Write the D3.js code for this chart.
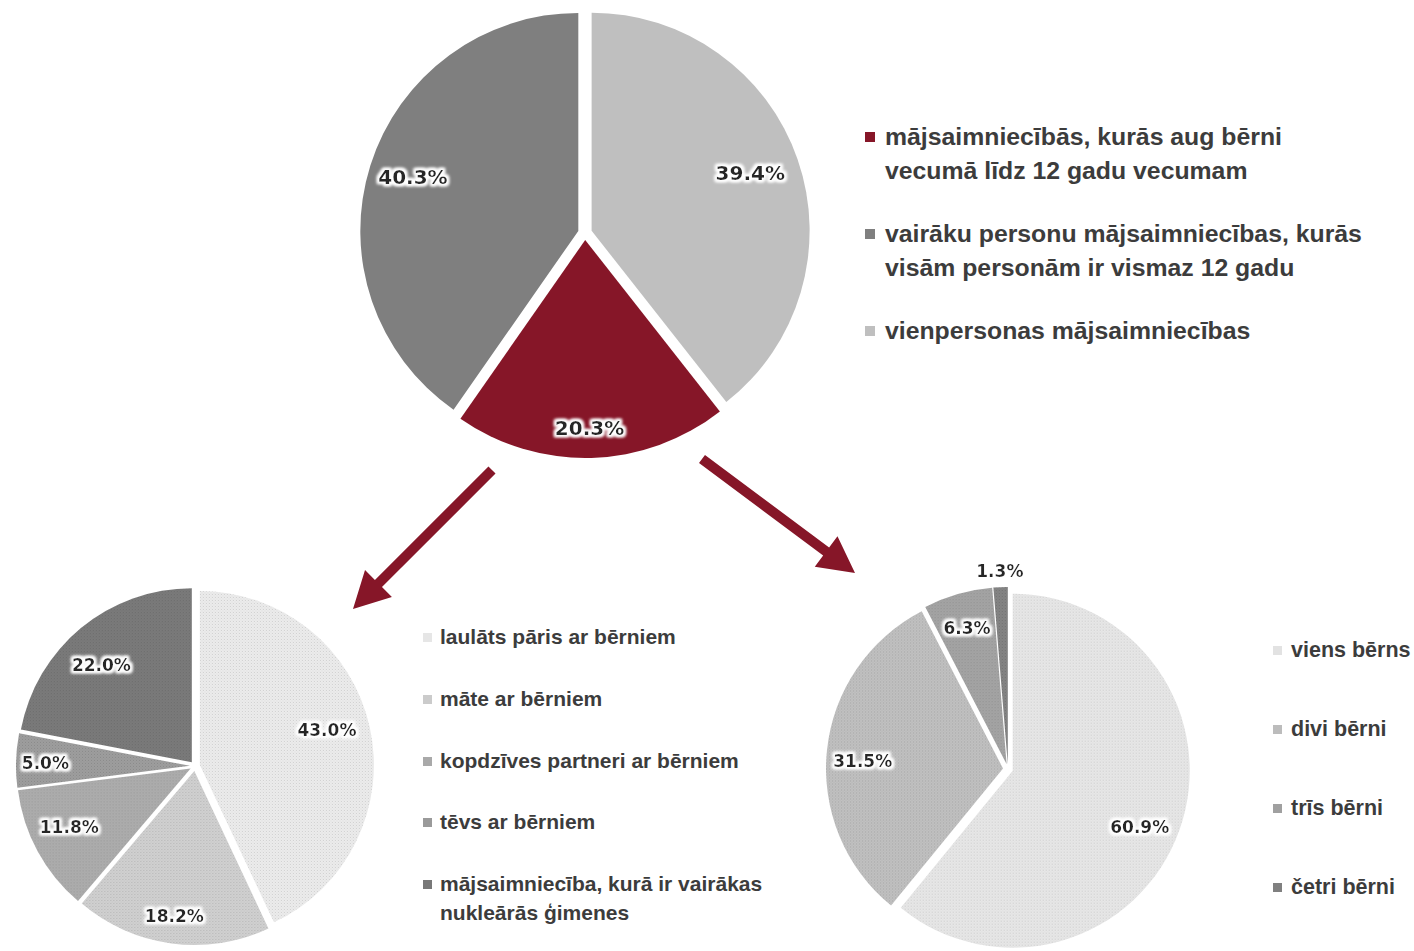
<!DOCTYPE html>
<html>
<head>
<meta charset="utf-8">
<script src="https://cdn.jsdelivr.net/npm/d3@7"></script>
<style>
  html, body { margin: 0; padding: 0; background: #ffffff; }
  svg { display: block; }
</style>
</head>
<body>
<svg id="chart" width="1414" height="951"></svg>
<script>
// ---------- DATA ----------
// Top pie (slice order clockwise from 12 o'clock)
const topCategories = [
  "vienpersonas mājsaimniecības",
  "mājsaimniecībās, kurās aug bērni vecumā līdz 12 gadu vecumam",
  "vairāku personu mājsaimniecības, kurās visām personām ir vismaz 12 gadu"
];
const topValues = [39.4, 20.3, 40.3];
const topLegendOrder = [1, 2, 0];
const topLegendLines = [
  ["vienpersonas mājsaimniecības"],
  ["mājsaimniecībās, kurās aug bērni", "vecumā līdz 12 gadu vecumam"],
  ["vairāku personu mājsaimniecības, kurās", "visām personām ir vismaz 12 gadu"]
];

// Bottom-left pie: household type
const typeCategories = [
  "laulāts pāris ar bērniem",
  "māte ar bērniem",
  "kopdzīves partneri ar bērniem",
  "tēvs ar bērniem",
  "mājsaimniecība, kurā ir vairākas nukleārās ģimenes"
];
const typeValues = [43.0, 18.2, 11.8, 5.0, 22.0];
const typeLegendLines = [
  ["laulāts pāris ar bērniem"],
  ["māte ar bērniem"],
  ["kopdzīves partneri ar bērniem"],
  ["tēvs ar bērniem"],
  ["mājsaimniecība, kurā ir vairākas", "nukleārās ģimenes"]
];

// Bottom-right pie: number of children
const childCategories = ["viens bērns", "divi bērni", "trīs bērni", "četri bērni"];
const childValues = [60.9, 31.5, 6.3, 1.3];

// ---------- STYLE / LAYOUT ----------
const topColors = ["#bfbfbf", "#861628", "#7f7f7f"];
const typeColors = ["#e6e6e6", "#cbcbcb", "#a9a9a9", "#9a9a9a", "#787878"];
const childColors = ["#e2e2e2", "#bcbcbc", "#a0a0a0", "#808080"];
const arrowColor = "#861628";
const legendTextColor = "#3c3c3c";
const labelTextColor = "#262626";

const pies = [
  { id: "top", cx: 585, cy: 233, r: 218, explode: 7, values: topValues, colors: topColors, textured: false,
    labelR: [0.77, 0.86, 0.80], nudge: [[0, -3], [-1, 1], [1, -2]], labelSize: 20 },
  { id: "type", cx: 195, cy: 766, r: 174, explode: 5, values: typeValues, colors: typeColors, textured: true,
    labelR: [0.76, 0.83, 0.78, 0.82, 0.77], nudge: [[-2, -6], [-1, 2], [-2, -6], [-2, 2], [-5, 6]], labelSize: 17 },
  { id: "child", cx: 1008, cy: 769, r: 177, explode: 5, values: childValues, colors: childColors, textured: true,
    labelR: [0.78, 0.78, 0.81, 1.10], nudge: [[-3, 10], [-3, 7], [0, 2], [0, 2]], labelSize: 17 }
];

const svg = d3.select("#chart");
const defs = svg.append("defs");

// white glow behind data labels
const f = defs.append("filter").attr("id", "halo")
  .attr("x", "-20%").attr("y", "-40%").attr("width", "140%").attr("height", "180%");
f.append("feMorphology").attr("in", "SourceAlpha").attr("operator", "dilate").attr("radius", 2).attr("result", "dil");
f.append("feGaussianBlur").attr("in", "dil").attr("stdDeviation", 1.6).attr("result", "blur");
f.append("feFlood").attr("flood-color", "#ffffff").attr("flood-opacity", 0.95).attr("result", "white");
f.append("feComposite").attr("in", "white").attr("in2", "blur").attr("operator", "in").attr("result", "glow");
const fm = f.append("feMerge");
fm.append("feMergeNode").attr("in", "glow");
fm.append("feMergeNode").attr("in", "glow");
fm.append("feMergeNode").attr("in", "SourceGraphic");

// subtle dotted textures
function texture(color) {
  const id = "tex" + color.replace("#", "");
  if (!defs.select("#" + id).empty()) return `url(#${id})`;
  const c = d3.color(color);
  const pt = defs.append("pattern").attr("id", id)
    .attr("patternUnits", "userSpaceOnUse").attr("width", 3).attr("height", 3);
  pt.append("rect").attr("width", 3).attr("height", 3).attr("fill", c.brighter(0.08).formatHex());
  pt.append("rect").attr("x", 0).attr("y", 0).attr("width", 1).attr("height", 1)
    .attr("fill", c.darker(0.35).formatHex());
  pt.append("rect").attr("x", 1.5).attr("y", 1.5).attr("width", 1).attr("height", 1)
    .attr("fill", c.darker(0.2).formatHex());
  return `url(#${id})`;
}

const pieGen = d3.pie().sort(null).value(d => d);

pies.forEach(p => {
  const arcs = pieGen(p.values);
  const arcGen = d3.arc().innerRadius(0).outerRadius(p.r);
  const g = svg.append("g").attr("transform", `translate(${p.cx},${p.cy})`);
  const slice = g.selectAll("g.slice").data(arcs).join("g")
    .attr("class", "slice")
    .attr("transform", d => {
      const a = (d.startAngle + d.endAngle) / 2;
      return `translate(${Math.sin(a) * p.explode},${-Math.cos(a) * p.explode})`;
    });
  slice.append("path")
    .attr("d", arcGen)
    .attr("fill", (d, i) => p.textured ? texture(p.colors[i]) : p.colors[i]);

  // labels
  g.selectAll("text.lbl").data(arcs).join("text")
    .attr("class", "lbl")
    .attr("x", (d, i) => {
      const a = (d.startAngle + d.endAngle) / 2;
      return Math.sin(a) * (p.explode + p.r * p.labelR[i]) + p.nudge[i][0];
    })
    .attr("y", (d, i) => {
      const a = (d.startAngle + d.endAngle) / 2;
      return -Math.cos(a) * (p.explode + p.r * p.labelR[i]) + p.nudge[i][1];
    })
    .attr("text-anchor", "middle")
    .attr("dominant-baseline", "central")
    .attr("font-family", "DejaVu Sans, Verdana, sans-serif")
    .attr("font-weight", "bold")
    .attr("font-size", p.labelSize)
    .attr("fill", labelTextColor)
    .attr("filter", "url(#halo)")
    .text(d => d.data.toFixed(1) + "%");
});

// ---------- LEGENDS ----------
function legend(opts) {
  const g = svg.append("g");
  opts.items.forEach((it, k) => {
    const y0 = opts.baselines[k];
    g.append("rect")
      .attr("x", opts.sqX).attr("y", y0 - opts.sqOff)
      .attr("width", opts.sq).attr("height", opts.sq)
      .attr("fill", it.color);
    const t = g.append("text")
      .attr("x", opts.textX).attr("y", y0)
      .attr("font-family", "Liberation Sans, Arial, sans-serif")
      .attr("font-weight", "bold")
      .attr("font-size", opts.fontSize)
      .attr("fill", legendTextColor);
    it.lines.forEach((ln, j) => {
      t.append("tspan").attr("x", opts.textX).attr("y", y0 + j * opts.lineGap).text(ln);
    });
  });
}

legend({
  items: topLegendOrder.map(i => ({ color: topColors[i], lines: topLegendLines[i] })),
  baselines: [145, 242, 339], lineGap: 34,
  sqX: 865, sq: 10, sqOff: 13, textX: 885, fontSize: 24.8
});
legend({
  items: typeCategories.map((c, i) => ({ color: typeColors[i], lines: typeLegendLines[i] })),
  baselines: [644, 706, 768, 829, 891], lineGap: 29,
  sqX: 423, sq: 9, sqOff: 11, textX: 440, fontSize: 21
});
legend({
  items: childCategories.map((c, i) => ({ color: childColors[i], lines: [c] })),
  baselines: [657, 736, 815, 894], lineGap: 0,
  sqX: 1273, sq: 9, sqOff: 11, textX: 1291, fontSize: 21.5
});

// ---------- ARROWS ----------
const arrows = [
  { x1: 492, y1: 470, x2: 353, y2: 609 },
  { x1: 702, y1: 459, x2: 855, y2: 573 }
];
const shaftW = 10, headLen = 36, headHalf = 19;
arrows.forEach(a => {
  const dx = a.x2 - a.x1, dy = a.y2 - a.y1;
  const L = Math.hypot(dx, dy);
  const ux = dx / L, uy = dy / L, nx = -uy, ny = ux;
  const bx = a.x2 - ux * headLen, by = a.y2 - uy * headLen;
  const pts = [
    [a.x1 + nx * shaftW / 2, a.y1 + ny * shaftW / 2],
    [bx + nx * shaftW / 2, by + ny * shaftW / 2],
    [bx + nx * headHalf, by + ny * headHalf],
    [a.x2, a.y2],
    [bx - nx * headHalf, by - ny * headHalf],
    [bx - nx * shaftW / 2, by - ny * shaftW / 2],
    [a.x1 - nx * shaftW / 2, a.y1 - ny * shaftW / 2]
  ];
  svg.append("path")
    .attr("d", d3.line()(pts) + "Z")
    .attr("fill", arrowColor);
});
</script>
</body>
</html>
